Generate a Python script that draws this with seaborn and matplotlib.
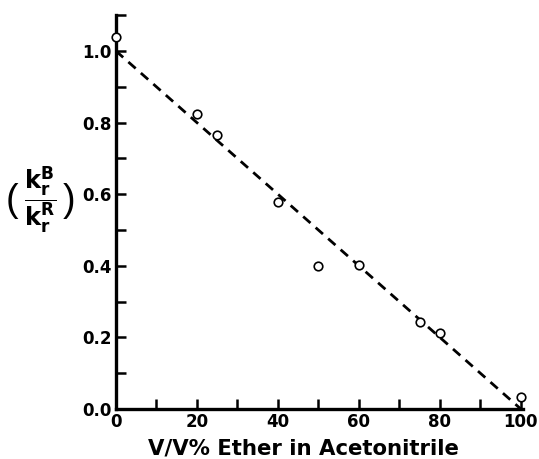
import matplotlib
matplotlib.use("Agg")
import matplotlib.pyplot as plt
import seaborn as sns
import pandas as pd
from matplotlib.ticker import MultipleLocator

# data
ether_pct = [0, 20, 25, 40, 50, 60, 75, 80, 100]
k_ratio = [1.04, 0.825, 0.765, 0.578, 0.40, 0.403, 0.242, 0.212, 0.034]
fit_x = [0, 100]
fit_y = [1.0, 0.0]

x_ticks = [0, 20, 40, 60, 80, 100]
y_ticks = [0.0, 0.2, 0.4, 0.6, 0.8, 1.0]

sns.set_theme(style="ticks")
plt.rcParams['font.family'] = ['DejaVu Sans']
plt.rcParams['font.weight'] = 'bold'
plt.rcParams['mathtext.fontset'] = 'dejavusans'
plt.rcParams['text.color'] = 'black'
plt.rcParams['axes.labelcolor'] = 'black'
plt.rcParams['xtick.color'] = 'black'
plt.rcParams['ytick.color'] = 'black'

fig = plt.figure(figsize=(5.39, 4.59), dpi=100)
ax = fig.add_axes([0.215, 0.109, 0.755, 0.858])

pts = pd.DataFrame({"x": ether_pct, "y": k_ratio})
fit = pd.DataFrame({"x": fit_x, "y": fit_y})

sns.lineplot(data=fit, x="x", y="y", ax=ax, color="black", linewidth=2.0,
             dashes=False, linestyle=(0, (3.5, 2.5)))
sns.scatterplot(data=pts, x="x", y="y", ax=ax, marker="o", s=38,
                facecolor="white", edgecolor="black", linewidth=1.2, zorder=5,
                clip_on=False)

ax.set_xlim(0, 100.5)
ax.set_ylim(0, 1.10)
ax.set_xticks(x_ticks)
ax.set_yticks(y_ticks)
ax.set_xticklabels([str(v) for v in x_ticks])
ax.set_yticklabels([f"{v:.1f}" for v in y_ticks])
ax.xaxis.set_minor_locator(MultipleLocator(10))
ax.yaxis.set_minor_locator(MultipleLocator(0.1))
ax.tick_params(which="both", direction="in", width=1.8, length=7, colors="black",
               labelsize=12, pad=3)
for lab in ax.get_xticklabels() + ax.get_yticklabels():
    lab.set_fontweight("bold")

for s in ["top", "right"]:
    ax.spines[s].set_visible(False)
for s in ["left", "bottom"]:
    ax.spines[s].set_linewidth(2.4)
    ax.spines[s].set_color("black")

ax.set_xlabel("V/V% Ether in Acetonitrile", fontsize=15.3, fontweight="bold", color="black")
ax.xaxis.set_label_coords(0.462, -0.075)
ax.set_ylabel(r"$\dfrac{\mathbf{k}_{\mathbf{r}}^{\mathbf{B}}}{\mathbf{k}_{\mathbf{r}}^{\mathbf{R}}}$",
              fontsize=17.5, rotation=0, va="center", ha="center", color="black")
ax.yaxis.set_label_coords(-0.187, 0.53)
fig.text(0.022, 0.562, "(", family="Liberation Sans", fontweight="normal",
         fontsize=27, ha="center", va="center", color="black")
fig.text(0.128, 0.562, ")", family="Liberation Sans", fontweight="normal",
         fontsize=27, ha="center", va="center", color="black")

fig.savefig("out.png", dpi=100, facecolor="white")
